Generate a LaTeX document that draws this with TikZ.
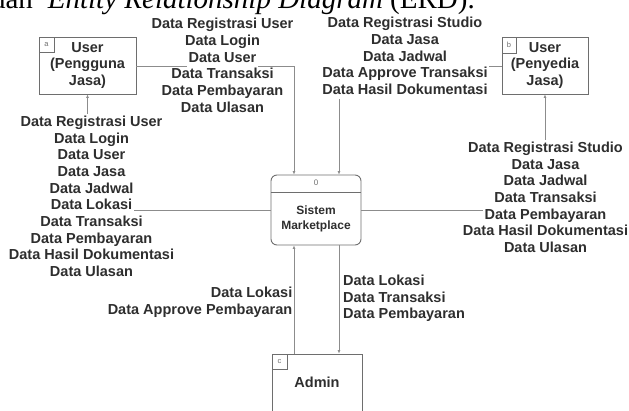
\documentclass[tikz,border=0pt]{standalone}
\usepackage{fontspec}
\setmainfont{Liberation Sans}
\newfontfamily\captionserif{Liberation Serif}
\usetikzlibrary{arrows.meta}
\definecolor{txt}{HTML}{2E2E2E}
\definecolor{edge}{HTML}{8C8C8C}
\definecolor{frame}{HTML}{6E6E6E}
% one text row on a white band, so a flow line behind it is hidden
\newcommand{\bgl}[1]{{\setlength{\fboxsep}{0pt}\colorbox{white}{\rule[-4.6pt]{0pt}{16.7pt}\hspace{1.5pt}#1\hspace{1.5pt}}}}
% one text row of the same height, without the band
\newcommand{\pl}[1]{\rule[-4.6pt]{0pt}{16.7pt}#1}

\begin{document}
\begin{tikzpicture}[x=1pt,y=-1pt,
  entity/.style={draw=frame, line width=0.9pt, rectangle, inner sep=0pt,
    font=\fontsize{14.5}{16.5}\selectfont\bfseries, text=txt, align=center},
  tag/.style={draw=frame, line width=0.7pt, inner sep=0pt, minimum width=15pt,
    minimum height=15pt, font=\fontsize{7.5}{8}\selectfont, text=frame, anchor=north west},
  flow/.style={draw=edge, line width=0.9pt, -{Latex[length=3.5pt,width=3pt]}},
  datalbl/.style={font=\fontsize{14.5}{16.7}\selectfont\bfseries, text=txt, inner sep=0pt},
]
\useasboundingbox (0,0) rectangle (629,411);
\clip (0,0) rectangle (629,411);

% caption line above the diagram
\node[anchor=base east, inner sep=0pt, font=\captionserif\fontsize{29}{30}\selectfont] (capt)
  at (475,9) {dan\hspace{15pt}\textit{Entity Relationship Diagram} (ERD).};

% external entities
\node[entity, minimum width=97pt, minimum height=57pt] (ua) at (87.5,65.5) {User\\(Pengguna\\Jasa)};
\node[tag] (uatag) at (ua.north west) {a};
\node[entity, minimum width=86pt, minimum height=57pt] (ub) at (545,65.5) {User\\(Penyedia\\Jasa)};
\node[tag, minimum width=14pt, minimum height=16pt] (ubtag) at (ub.north west) {b};
\node[entity, minimum width=90pt, minimum height=80pt, text depth=0pt] (adm) at (317,394) {};
\node[tag] (admtag) at (adm.north west) {c};
\node[font=\fontsize{14.5}{16.5}\selectfont\bfseries, text=txt] (admtxt) at ([yshift=-29pt]adm.north) {Admin};

% process
\node[draw=frame, line width=0.9pt, rounded corners=6pt, minimum width=90pt, minimum height=70pt, inner sep=0pt] (sys) at (316,210) {};
\draw[draw=frame, line width=0.9pt] ([yshift=-18pt]sys.north west) -- ([yshift=-18pt]sys.north east);
\node[font=\fontsize{8}{9}\selectfont, text=frame, inner sep=0pt] (sysid) at ([yshift=-8pt]sys.north) {0};
\node[font=\fontsize{12}{15}\selectfont\bfseries, text=txt, align=center, inner sep=0pt] (systxt)
  at ([yshift=-44.5pt]sys.north) {Sistem\\Marketplace};

% data flows
\draw[flow] ([yshift=-1pt]ua.east) -| ([xshift=-22pt]sys.north);
\draw[flow] ([yshift=-1pt]ub.west) -| ([xshift=23pt]sys.north);
\draw[flow] (sys.west) -| (ua.south);
\draw[flow] (sys.east) -| (ub.south);
\draw[flow] ([xshift=-23pt]adm.north) -- ([xshift=-22pt]sys.south);
\draw[flow] ([xshift=23pt]sys.south) -- ([xshift=22pt]adm.north);

% flow labels
\node[datalbl, align=center, anchor=north] (lblua) at (222.5,16.6)
  {\bgl{Data Registrasi User}\\\bgl{Data Login}\\\bgl{Data User}\\\bgl{Data Transaksi}\\\bgl{Data Pembayaran}\\\bgl{Data Ulasan}};
\node[datalbl, align=center, anchor=north] (lblub) at (405,15.6)
  {\bgl{Data Registrasi Studio}\\\bgl{Data Jasa}\\\bgl{Data Jadwal}\\\bgl{Data Approve Transaksi}\\\bgl{Data Hasil Dokumentasi}};
\node[datalbl, align=center, anchor=north] (lblsa) at (91.5,114.1)
  {\bgl{Data Registrasi User}\\\bgl{Data Login}\\\bgl{Data User}\\\bgl{Data Jasa}\\\bgl{Data Jadwal}\\\bgl{Data Lokasi}\\\bgl{Data Transaksi}\\\bgl{Data Pembayaran}\\\bgl{Data Hasil Dokumentasi}\\\bgl{Data Ulasan}};
\node[datalbl, align=center, anchor=north] (lblsb) at (545.5,140.1)
  {\bgl{Data Registrasi Studio}\\\bgl{Data Jasa}\\\bgl{Data Jadwal}\\\bgl{Data Transaksi}\\\bgl{Data Pembayaran}\\\bgl{Data Hasil Dokumentasi}\\\bgl{Data Ulasan}};
\node[datalbl, align=right, anchor=north east] (lblas) at (292.5,285.1)
  {\pl{Data Lokasi}\\\pl{Data Approve Pembayaran}};
\node[datalbl, align=left, anchor=north west] (lblsad) at (343,273.1)
  {\pl{Data Lokasi}\\\pl{Data Transaksi}\\\pl{Data Pembayaran}};
\end{tikzpicture}
\end{document}
